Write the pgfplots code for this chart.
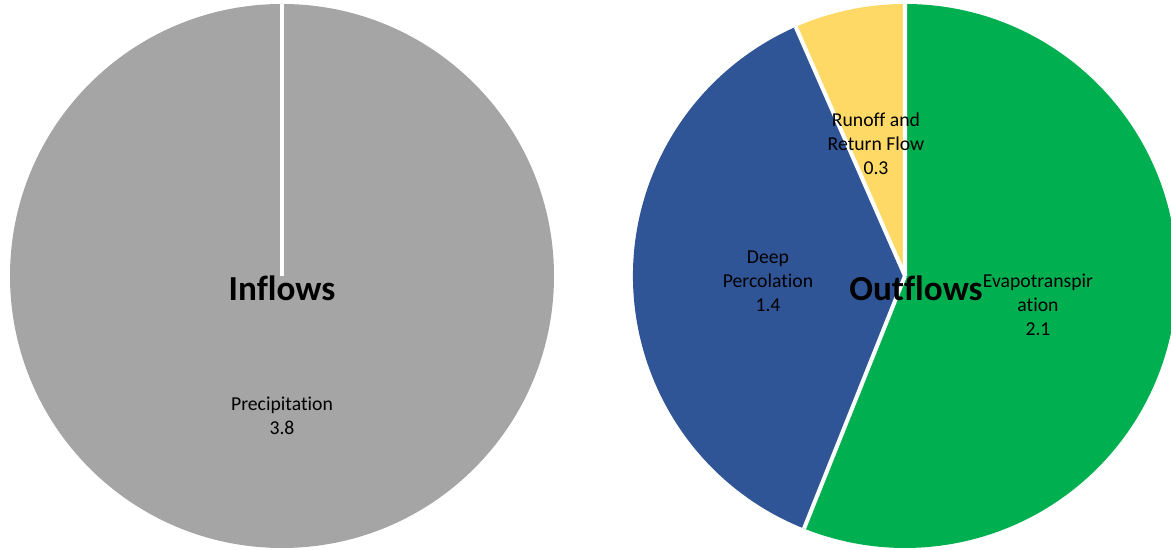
\documentclass[border=0pt]{standalone}
\usepackage{pgfplots}
\usepackage{pgfplotstable}
\pgfplotsset{compat=1.18}
\usepackage{fontspec}
\setmainfont[Ligatures=NoCommon]{Carlito}
\definecolor{inflowgray}{HTML}{A5A5A5}
\definecolor{evap}{HTML}{00B050}
\definecolor{deep}{HTML}{2F5597}
\definecolor{runoff}{HTML}{FFD966}

\pgfplotstableread{
label value
Precipitation 3.8
}\inflowdata
\pgfplotstableread{
label value
Evapotranspiration 2.13
DeepPercolation 1.42
Runoff 0.25
}\outflowdata

\begin{document}
\begin{tikzpicture}
\pgfplotstablegetelem{0}{value}\of\outflowdata \let\vEvap\pgfplotsretval
\pgfplotstablegetelem{1}{value}\of\outflowdata \let\vDeep\pgfplotsretval
\pgfplotstablegetelem{2}{value}\of\outflowdata \let\vRun\pgfplotsretval
\pgfmathsetmacro\tot{\vEvap+\vDeep+\vRun}
\pgfmathsetmacro\aA{90}
\pgfmathsetmacro\aB{90-360*\vEvap/\tot}
\pgfmathsetmacro\aC{\aB-360*\vDeep/\tot}
\pgfmathsetmacro\aD{\aC-360*\vRun/\tot}
\begin{axis}[
  width=11.71cm, height=5.5cm, scale only axis,
  xmin=0, xmax=1171, ymin=0, ymax=550,
  hide axis, clip=true,
]
\path (axis cs:0,0) rectangle (axis cs:1171,550);
% Inflows pie (single slice)
\fill[inflowgray] (axis cs:282,274) circle[radius=2.72cm];
\draw[white, line width=1.15pt] (axis cs:282,274) -- ++(90:2.72cm);
% Outflows pie
\fill[evap] (axis cs:905,274) -- ++(\aA:2.72cm) arc[start angle=\aA, end angle=\aB, radius=2.72cm] -- cycle;
\fill[deep] (axis cs:905,274) -- ++(\aB:2.72cm) arc[start angle=\aB, end angle=\aC, radius=2.72cm] -- cycle;
\fill[runoff] (axis cs:905,274) -- ++(\aC:2.72cm) arc[start angle=\aC, end angle=\aD, radius=2.72cm] -- cycle;
\draw[white, line width=1.15pt, line join=round] (axis cs:905,274) -- ++(\aA:2.72cm)
  (axis cs:905,274) -- ++(\aB:2.72cm)
  (axis cs:905,274) -- ++(\aC:2.72cm);
% labels
\node[font=\fontsize{5.6}{6.83}\selectfont, align=center] at (axis cs:282,134) {Precipitation\\3.8};
\node[font=\fontsize{5.6}{6.83}\selectfont, align=center] at (axis cs:1038,245) {Evapotranspir\\ation\\2.1};
\node[font=\fontsize{5.6}{6.83}\selectfont, align=center] at (axis cs:768,269) {Deep\\Percolation\\1.4};
\node[font=\fontsize{5.6}{6.83}\selectfont, align=center] at (axis cs:876,406) {Runoff and\\Return Flow\\0.3};
\node[font=\fontsize{10}{12}\selectfont\bfseries] at (axis cs:282,262) {Inflows};
\node[font=\fontsize{10}{12}\selectfont\bfseries] at (axis cs:916,262) {Outflows};
\end{axis}
\end{tikzpicture}
\end{document}
